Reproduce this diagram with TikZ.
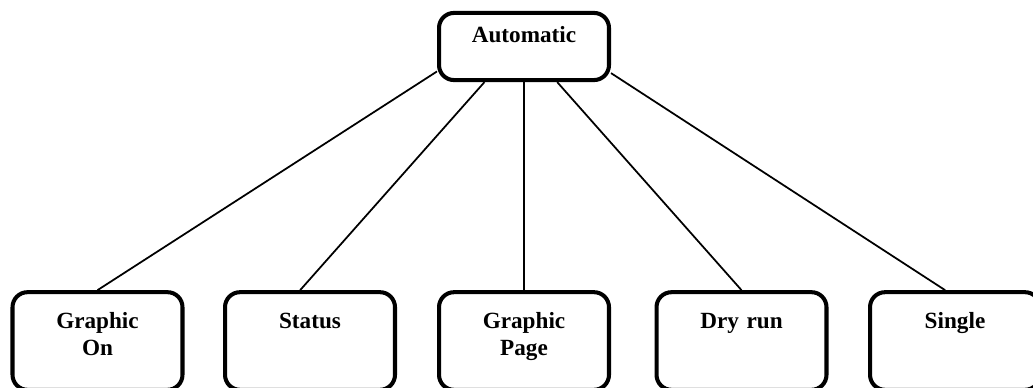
\documentclass[tikz,border=0pt]{standalone}
\usepackage{fontspec}
\setmainfont{Liberation Serif}
\usetikzlibrary{positioning}

\begin{document}
\begin{tikzpicture}[
      x=0.02cm, y=-0.02cm,
      box/.style={draw, line width=2.3pt, rounded corners=0.3cm,
        font=\fontsize{13.2}{15}\selectfont\bfseries, align=center,
        text width=2.56cm, minimum width=3.4cm, inner sep=0.42cm,
        text height=8.9pt, text depth=0.8cm},
      topbox/.style={box, inner ysep=0.28cm, text depth=0.47cm},
      link/.style={line width=1pt}
    ]
    \useasboundingbox (0,0) rectangle (1033,388);

    \node[topbox] (auto) at (524,46.5) {Automatic};

    \node[box] (gon) at (97.5,341) {Graphic\\On};
    \node[box] (status) at (310,341) {Status};
    \node[box] (gpage) at (524,341) {Graphic\\Page};
    \node[box] (dry) at (741.5,341) {Dry run};
    \node[box] (single) at (955,341) {Single};

    \draw[link] (auto.196.5) -- (gon.north);
    \draw[link] (auto.222) -- (status.101.5);
    \draw[link] (auto.south) -- (gpage.north);
    \draw[link] (auto.313) -- (dry.north);
    \draw[link] (auto.343.5) -- (single.101.5);
  \end{tikzpicture}
\end{document}
